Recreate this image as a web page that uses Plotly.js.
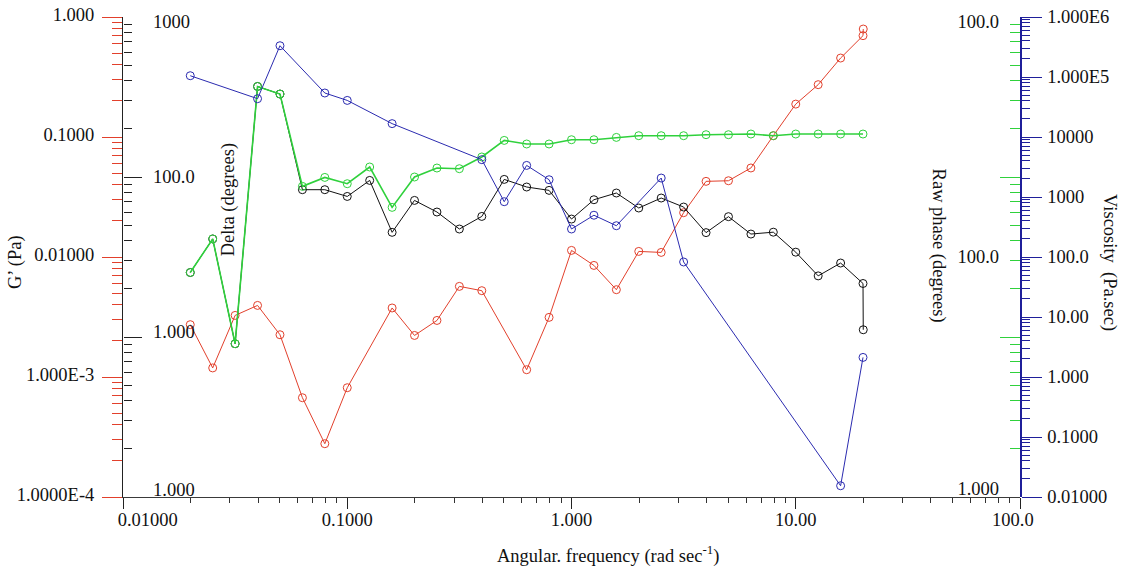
<!DOCTYPE html>
<html>
<head>
<meta charset="utf-8">
<script src="https://cdn.plot.ly/plotly-3.0.1.min.js"></script>
<style>
html,body{margin:0;padding:0;background:#fff;}
#chart{width:1121px;height:570px;}
</style>
</head>
<body>
<div id="chart"></div>
<script>
// ---------- data ----------
// Angular frequency (rad/s) for each series
const freqGp = [0.01995,0.02512,0.03162,0.03981,0.05012,0.06310,0.07943,0.1000,
  0.1585,0.1995,0.2512,0.3162,0.3981,
  0.6310,0.7943,1.000,1.259,1.585,1.995,2.512,3.162,3.981,5.012,6.310,7.943,10.00,12.59,15.85,19.95,20.00];
const gPrime = [2.73e-3,1.19e-3,3.26e-3,3.95e-3,2.25e-3,6.72e-4,2.78e-4,8.14e-4,
  3.76e-3,2.22e-3,2.96e-3,5.69e-3,5.24e-3,
  1.15e-3,3.14e-3,1.135e-2,8.51e-3,5.34e-3,1.113e-2,1.092e-2,2.34e-2,4.27e-2,4.32e-2,5.52e-2,0.1025,0.188,0.273,0.455,0.699,0.794];

const freqDelta = [0.01995,0.02512,0.03162,0.03981,0.05012,0.06310,0.07943,0.1000,0.1259,0.1585,
  0.1995,0.2512,0.3162,0.3981,0.5012,0.6310,0.7943,1.000,1.259,1.585,
  1.995,2.512,3.162,3.981,5.012,6.310,7.943,10.00,12.59,15.85,19.95,20.00];
const delta = [25.3,41.0,9.08,368,330,83.3,83.3,75.6,95.2,45.1,
  71.4,60.4,47.3,56.7,96.6,86.6,82.5,54.6,72.1,79.4,
  64.0,73.9,64.9,44.9,56.5,44.0,45.2,33.9,24.1,29.0,21.6,11.1];

const freqRaw = [0.01995,0.02512,0.03162,0.03981,0.05012,0.06310,0.07943,0.1000,0.1259,0.1585,
  0.1995,0.2512,0.3162,0.3981,0.5012,0.6310,0.7943,1.000,1.259,1.585,
  1.995,2.512,3.162,3.981,5.012,6.310,7.943,10.00,12.59,15.85,19.95];
const rawPhase = [25.3,41.0,9.08,368,330,87.4,99.4,90.8,115.5,64.6,
  100,113.8,112.7,133.4,169.3,160.8,160.8,171,171,176.8,
  181.2,181.2,181.2,183.8,183.8,185.6,181.2,185.6,185.6,185.6,185.6];

const freqVisc = [0.01995,0.03981,0.05012,0.07943,0.1000,0.1585,0.3981,0.5012,0.6310,0.7943,
  1.000,1.259,1.585,2.512,3.162,15.85,19.95];
const viscosity = [1.05e5,4.35e4,3.32e5,5.41e4,4.07e4,1.67e4,4.19e3,835,3.36e3,1.94e3,
  293,497,332,2.07e3,82.6,0.0154,2.12];

// ---------- tick labels ----------
const freqTickVals = [0.01,0.1,1,10,100];
const freqTickText = ['0.01000','0.1000','1.000','10.00','100.0'];
const gTickVals = [1,0.1,0.01,0.001,0.0001];
const gTickText = ['1.000','0.1000','0.01000','1.000E-3','1.0000E-4'];
const degTickVals = [1000,100,10,1];
const deltaTickText = ['1000','100.0','1.000','1.000'];
const rawTickText = ['100.0','100.0','1.000'];
const viscTickVals = [1e6,1e5,1e4,1e3,100,10,1,0.1,0.01];
const viscTickText = ['1.000E6','1.000E5','10000','1000','100.0','10.00','1.000','0.1000','0.01000'];

// label placement (where the reference prints its labels)
const freqLabelAt = [0.0129,0.1,1,10,93];
const deltaLabelAt = [934,100,10.8,1.11];
const rawLabelAt = [934,31.8,1.13];

// ---------- styling ----------
const RED = '#e2402c', GREEN = '#2fd13c', BLUE = '#2b2bb0', BLACK = '#111111';
const BLUEAX = '#1f1f9a';
const FONT = {family: 'Liberation Serif, "DejaVu Serif", serif', size: 18.5, color: '#111'};

function minorVals(lo, hi) {
  const v = [];
  for (let d = lo; d < hi; d++) for (let m = 2; m <= 9; m++) v.push(m * Math.pow(10, d));
  return v;
}

const mk = (color) => ({symbol: 'circle-open', size: 8, color: color, line: {width: 1, color: color}});

const traces = [
  {x: freqGp, y: gPrime, xaxis: 'x', yaxis: 'y', mode: 'lines+markers', line: {color: RED, width: 1}, marker: mk(RED), hoverinfo: 'skip'},
  {x: freqVisc, y: viscosity, xaxis: 'x', yaxis: 'y6', mode: 'lines+markers', line: {color: BLUE, width: 1}, marker: mk(BLUE), hoverinfo: 'skip'},
  {x: freqRaw, y: rawPhase, xaxis: 'x', yaxis: 'y4', mode: 'lines+markers', line: {color: GREEN, width: 1.6}, marker: mk(GREEN), hoverinfo: 'skip'},
  {x: freqDelta, y: delta, xaxis: 'x', yaxis: 'y2', mode: 'lines+markers', line: {color: BLACK, width: 1}, marker: mk(BLACK), hoverinfo: 'skip'},
  // empty traces so that the label-only axes get their subplots
  {x: [], y: [], xaxis: 'x2', yaxis: 'y', hoverinfo: 'skip'},
  {x: [], y: [], xaxis: 'x', yaxis: 'y3', hoverinfo: 'skip'},
  {x: [], y: [], xaxis: 'x', yaxis: 'y5', hoverinfo: 'skip'}
];

const baseY = {type: 'log', showgrid: false, zeroline: false, fixedrange: true};

const layout = {
  width: 1121, height: 570,
  margin: {l: 123, r: 101, t: 17, b: 73, pad: 0},
  paper_bgcolor: '#ffffff', plot_bgcolor: '#ffffff',
  showlegend: false, font: FONT,
  xaxis: {type: 'log', range: [-2, 2], domain: [0, 1], anchor: 'y',
    showline: true, linecolor: '#3a3a3a', linewidth: 1,
    tickmode: 'array', tickvals: freqTickVals, ticks: 'outside', ticklen: 11, tickcolor: '#222', tickwidth: 1,
    showticklabels: false, showgrid: false, zeroline: false,
    minor: {tickmode: 'array', tickvals: minorVals(-2, 2), ticks: 'outside', ticklen: 5, tickcolor: '#333', tickwidth: 1, showgrid: false}},
  xaxis2: {type: 'log', range: [-2, 2], overlaying: 'x', anchor: 'y', side: 'bottom',
    tickmode: 'array', tickvals: freqLabelAt, ticktext: freqTickText,
    ticks: 'outside', ticklen: 6, tickcolor: 'rgba(0,0,0,0)',
    showline: false, showgrid: false, zeroline: false, tickfont: FONT},
  // G' (red)
  yaxis: Object.assign({}, baseY, {range: [-4, 0], side: 'left', anchor: 'x',
    showline: true, linecolor: '#222', linewidth: 1,
    tickmode: 'array', tickvals: gTickVals, ticktext: gTickText,
    ticks: 'outside', ticklen: 20, tickcolor: RED, tickwidth: 1, tickfont: FONT,
    ticklabelshift: -2, ticklabelstandoff: 4,
    minor: {tickmode: 'array', tickvals: minorVals(-4, 0), ticks: 'outside', ticklen: 10, tickcolor: RED, tickwidth: 1}}),
  // Delta (black) ticks
  yaxis2: Object.assign({}, baseY, {range: [0, 3], overlaying: 'y', side: 'left', anchor: 'free', position: 0,
    showline: false, tickmode: 'array', tickvals: degTickVals, showticklabels: false,
    ticks: 'inside', ticklen: 18, tickcolor: '#222', tickwidth: 1,
    minor: {tickmode: 'array', tickvals: minorVals(0, 3), ticks: 'inside', ticklen: 8, tickcolor: '#222', tickwidth: 1}}),
  // Delta labels
  yaxis3: Object.assign({}, baseY, {range: [0, 3], overlaying: 'y', side: 'left', anchor: 'free', position: 0,
    showline: false, tickmode: 'array', tickvals: deltaLabelAt, ticktext: deltaTickText, ticks: '',
    ticklabelposition: 'inside', ticklabeloverflow: 'allow', ticklabelstandoff: 26, tickfont: FONT}),
  // Raw phase (green) ticks
  yaxis4: Object.assign({}, baseY, {range: [0, 3], overlaying: 'y', side: 'right', anchor: 'free', position: 1,
    showline: false, tickmode: 'array', tickvals: degTickVals, showticklabels: false,
    ticks: 'inside', ticklen: 20, tickcolor: GREEN, tickwidth: 1,
    minor: {tickmode: 'array', tickvals: minorVals(0, 3), ticks: 'inside', ticklen: 10, tickcolor: GREEN, tickwidth: 1}}),
  // Raw phase labels
  yaxis5: Object.assign({}, baseY, {range: [0, 3], overlaying: 'y', side: 'right', anchor: 'free', position: 1,
    showline: false, tickmode: 'array', tickvals: rawLabelAt, ticktext: rawTickText, ticks: '',
    ticklabelposition: 'inside', ticklabeloverflow: 'allow', ticklabelstandoff: 18, tickfont: FONT}),
  // Viscosity (blue)
  yaxis6: Object.assign({}, baseY, {range: [-2, 6], overlaying: 'y', side: 'right', anchor: 'free', position: 1,
    showline: true, linecolor: BLUEAX, linewidth: 1.5,
    tickmode: 'array', tickvals: viscTickVals, ticktext: viscTickText,
    ticks: 'outside', ticklen: 20, tickcolor: BLUEAX, tickwidth: 1, tickfont: FONT,
    ticklabelstandoff: 2, ticklabeloverflow: 'allow',
    minor: {tickmode: 'array', tickvals: minorVals(-2, 6), ticks: 'outside', ticklen: 8, tickcolor: BLUEAX, tickwidth: 1}}),
  annotations: [
    {text: 'G’ (Pa)', xref: 'paper', yref: 'paper', x: -0.119, y: 0.49, xanchor: 'center', yanchor: 'middle', textangle: -90, showarrow: false, font: FONT},
    {text: 'Delta (degrees)', xref: 'paper', yref: 'paper', x: 0.117, y: 0.62, xanchor: 'center', yanchor: 'middle', textangle: -90, showarrow: false, font: FONT},
    {text: 'Raw phase (degrees)', xref: 'paper', yref: 'paper', x: 0.909, y: 0.523, xanchor: 'center', yanchor: 'middle', textangle: 90, showarrow: false, font: FONT},
    {text: 'Viscosity  (Pa.sec)', xref: 'paper', yref: 'paper', x: 1.1, y: 0.488, xanchor: 'center', yanchor: 'middle', textangle: 90, showarrow: false, font: FONT},
    {text: 'Angular. frequency (rad sec<sup>-1</sup>)', xref: 'paper', yref: 'paper', x: 0.541, y: -0.12, xanchor: 'center', yanchor: 'middle', showarrow: false, font: FONT}
  ]
};

Plotly.newPlot('chart', traces, layout, {staticPlot: true, displayModeBar: false});
</script>
</body>
</html>
